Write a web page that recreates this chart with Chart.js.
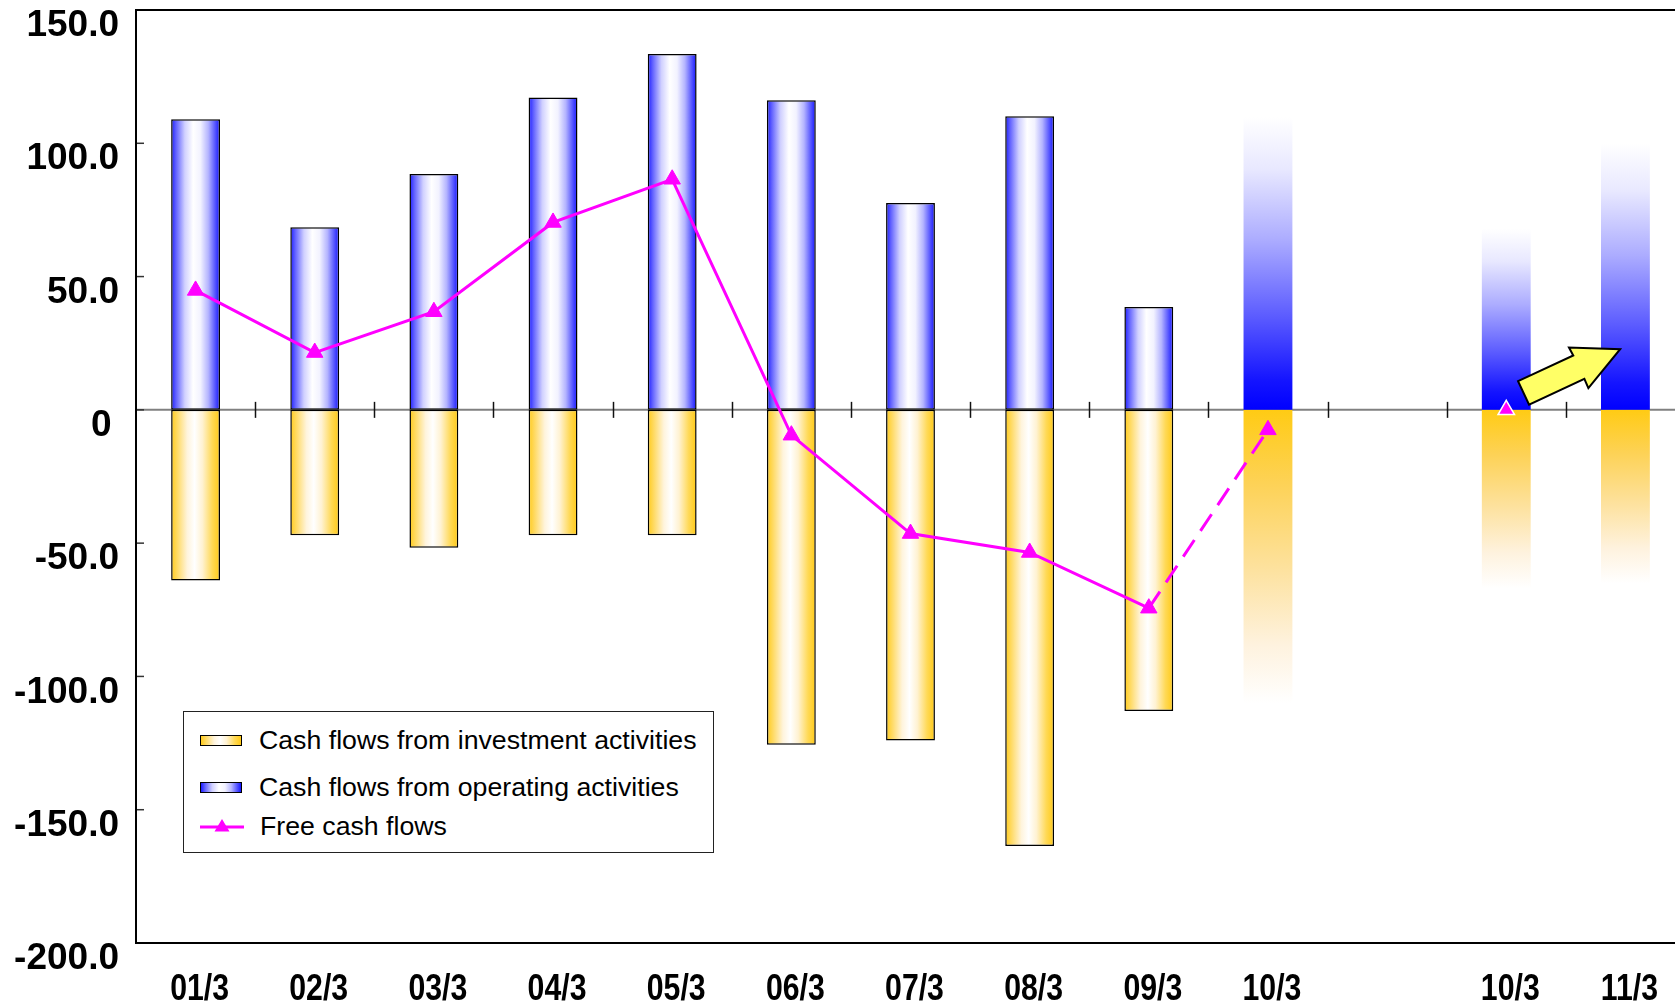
<!DOCTYPE html>
<html>
<head>
<meta charset="utf-8">
<title>Cash flows</title>
<script src="https://cdn.jsdelivr.net/npm/chart.js@4.4.1/dist/chart.umd.min.js"></script>
<style>
  html, body { margin: 0; padding: 0; background: #fff; overflow: hidden; }
  #wrap { position: relative; width: 1675px; height: 1003px; overflow: hidden; }
  #cv { position: absolute; left: 0; top: 0; }
  #legend {
    position: absolute; left: 183px; top: 711px; width: 529px; height: 140px;
    border: 1px solid #222; background: #fff;
    font-family: "Liberation Sans", Arial, sans-serif; font-size: 26.7px; color: #000;
  }
  #legend .row { position: absolute; left: 16px; height: 30px; display: flex; align-items: center; white-space: nowrap; }
  #legend .sw { width: 40px; height: 9px; border: 1.5px solid #000; margin-right: 17px; }
  #legend svg { margin-right: 16px; }
</style>
</head>
<body>
<div id="wrap">
  <canvas id="cv" width="1700" height="1003"></canvas>
  <div id="legend"></div>
</div>
<script>
// Fiscal years (March year-end); the blank slot separates the two forecast groups
const categories = ['01/3', '02/3', '03/3', '04/3', '05/3', '06/3', '07/3', '08/3', '09/3', '10/3', '', '10/3', '11/3'];

// Results (billions of yen)
const operatingCF  = [109.0, 68.5, 88.5, 117.2, 133.5, 116.1, 77.6, 110.1, 38.6, null, null, null, null];
const investmentCF = [-64.0, -47.0, -51.7, -47.0, -47.0, -125.6, -124.0, -163.6, -113.0, null, null, null, null];
const freeCF       = [44.8, 21.5, 36.8, 70.3, 86.5, -9.5, -46.4, -53.5, -74.4, -7.5, null, 0, null];

// Plans / outlooks (drawn as fading bars)
const operatingPlan  = [null, null, null, null, null, null, null, null, null, 110, null, 68, 100];
const investmentPlan = [null, null, null, null, null, null, null, null, null, -110, null, -67, -65];

// Axis range
const yMin = -200, yMax = 150, yStep = 50;

const BAR_PCT = 0.41;
const LABEL_FONT = '"Liberation Sans", Arial, sans-serif';

const blueBand = [[0, '#1c1cff'], [0.1, '#6262ff'], [0.28, '#d0d0ff'], [0.45, '#ffffff'], [0.6, '#f2f2ff'], [0.76, '#b4b4ff'], [0.9, '#5656ff'], [1, '#1414ff']];
const goldBand = [[0, '#ffcb1c'], [0.14, '#ffdc6c'], [0.33, '#fff4dc'], [0.48, '#ffffff'], [0.64, '#fff2d2'], [0.84, '#ffd956'], [1, '#ffc916']];
const blueFade = [[0, '#0000ff'], [0.1, '#1414ff'], [0.32, '#5c5cff'], [0.58, '#acacff'], [0.82, '#e8e8ff'], [1, '#ffffff']];
const goldFade = [[0, '#ffcb14'], [0.25, '#fdd256'], [0.55, '#fde2a0'], [0.8, '#fef2de'], [1, '#ffffff']];

function toCss(stops) {
  return 'linear-gradient(to right, ' + stops.map(([o, c]) => c + ' ' + (o * 100) + '%').join(', ') + ')';
}

// Horizontal "cylinder" shading across each bar
function bandFill(stops) {
  return (c) => {
    if (c.type !== 'data' || !c.chart.chartArea) return stops[0][1];
    const x = c.chart.scales.x;
    const cx = x.getPixelForValue(c.dataIndex);
    const half = (x.getPixelForValue(1) - x.getPixelForValue(0)) * BAR_PCT / 2;
    const g = c.chart.ctx.createLinearGradient(cx - half, 0, cx + half, 0);
    stops.forEach(([o, col]) => g.addColorStop(o, col));
    return g;
  };
}

// Vertical fade from the zero line out to the bar's value
function fadeFill(stops) {
  return (c) => {
    if (c.type !== 'data' || c.raw == null || !c.chart.chartArea) return stops[0][1];
    const y = c.chart.scales.y;
    const g = c.chart.ctx.createLinearGradient(0, y.getPixelForValue(0), 0, y.getPixelForValue(c.raw));
    stops.forEach(([o, col]) => g.addColorStop(o, col));
    return g;
  };
}

// Plot frame, zero line and the small tick marks
const framePlugin = {
  id: 'frame',
  beforeDatasetsDraw(chart) {
    const { ctx, chartArea: a, scales: { x, y } } = chart;
    const y0 = y.getPixelForValue(0);
    ctx.save();
    ctx.strokeStyle = '#808080';
    ctx.lineWidth = 2;
    ctx.beginPath(); ctx.moveTo(a.left, y0); ctx.lineTo(a.right, y0); ctx.stroke();

    const slot = x.getPixelForValue(1) - x.getPixelForValue(0);
    ctx.strokeStyle = '#111';
    ctx.lineWidth = 1.5;
    for (let i = 0; i < categories.length - 1; i++) {
      const px = Math.round(x.getPixelForValue(i) + slot / 2) + 0.5;
      ctx.beginPath(); ctx.moveTo(px, y0 - 8); ctx.lineTo(px, y0 + 8); ctx.stroke();
    }
    ctx.strokeStyle = '#333';
    for (let v = yMin + yStep; v < yMax; v += yStep) {
      const py = y.getPixelForValue(v);
      ctx.beginPath(); ctx.moveTo(a.left, py); ctx.lineTo(a.left + 8, py); ctx.stroke();
    }
    ctx.strokeStyle = '#000';
    ctx.lineWidth = 2;
    ctx.strokeRect(a.left, a.top, a.right - a.left, a.bottom - a.top);
    ctx.restore();
  }
};

// Category labels in a narrow bold face (horizontally condensed)
const categoryLabelPlugin = {
  id: 'categoryLabels',
  afterDraw(chart) {
    const { ctx, chartArea: a, scales: { x } } = chart;
    ctx.save();
    ctx.fillStyle = '#000';
    ctx.font = 'bold 36px ' + LABEL_FONT;
    ctx.textAlign = 'center';
    ctx.textBaseline = 'alphabetic';
    categories.forEach((label, i) => {
      if (!label) return;
      ctx.save();
      ctx.translate(x.getPixelForValue(i) + 4, a.bottom + 57);
      ctx.scale(0.84, 1);
      ctx.fillText(label, 0, 0);
      ctx.restore();
    });
    ctx.restore();
  }
};

// Upward block arrow pointing from the current-year outlook to the next year
const arrowPlugin = {
  id: 'arrow',
  afterDatasetsDraw(chart) {
    const { ctx, scales: { x, y } } = chart;
    const ox = x.getPixelForValue(11), oy = y.getPixelForValue(0);
    const shape = [[11.8, -28.7], [67, -54.4], [62.7, -62.4], [113.9, -60.7], [82.1, -21.7], [78.1, -30.9], [22.8, -5.3]];
    ctx.save();
    ctx.beginPath();
    shape.forEach(([dx, dy], i) => (i ? ctx.lineTo(ox + dx, oy + dy) : ctx.moveTo(ox + dx, oy + dy)));
    ctx.closePath();
    ctx.fillStyle = '#ffff66';
    ctx.fill();
    ctx.lineWidth = 2;
    ctx.lineJoin = 'miter';
    ctx.strokeStyle = '#000';
    ctx.stroke();
    ctx.restore();
  }
};

const datasets = [
  {
    type: 'line', label: 'Free cash flows', data: freeCF, order: 0,
    borderColor: '#ff00ff', backgroundColor: '#ff00ff', borderWidth: 3, tension: 0, spanGaps: false,
    pointStyle: 'triangle', pointRadius: 9.5, pointHoverRadius: 9.5,
    pointBackgroundColor: '#ff00ff',
    pointBorderColor: freeCF.map((v, i) => (i === 11 ? '#ffffff' : '#ff00ff')),
    pointBorderWidth: freeCF.map((v, i) => (i === 11 ? 1.5 : 1)),
    segment: { borderDash: (s) => (s.p0DataIndex === 8 ? [20, 11] : undefined) }
  },
  {
    label: 'Cash flows from investment activities', data: investmentCF, order: 1,
    backgroundColor: bandFill(goldBand), borderColor: '#000', borderWidth: 1.5, borderSkipped: false,
    legendFill: goldBand
  },
  {
    label: 'Cash flows from operating activities', data: operatingCF, order: 1,
    backgroundColor: bandFill(blueBand), borderColor: '#000', borderWidth: 1.5, borderSkipped: false,
    legendFill: blueBand
  },
  {
    label: 'Operating outlook', data: operatingPlan, order: 2,
    backgroundColor: fadeFill(blueFade), borderWidth: 0
  },
  {
    label: 'Investment outlook', data: investmentPlan, order: 2,
    backgroundColor: fadeFill(goldFade), borderWidth: 0
  }
];

const noEdgePadding = (s) => { s.paddingTop = 0; s.paddingBottom = 0; s.paddingLeft = 0; s.paddingRight = 0; };

new Chart(document.getElementById('cv'), {
  type: 'bar',
  data: { labels: categories, datasets },
  options: {
    responsive: false,
    animation: false,
    events: [],
    datasets: { bar: { grouped: false, barPercentage: BAR_PCT, categoryPercentage: 1 } },
    layout: { autoPadding: false, padding: { left: 0, right: 15, top: 10, bottom: 0 } },
    plugins: { legend: { display: false }, tooltip: { enabled: false } },
    scales: {
      x: {
        grid: { display: false, drawTicks: false },
        border: { display: false },
        ticks: { display: false, autoSkip: false, maxRotation: 0, minRotation: 0 },
        afterFit: (s) => { s.height = 60; noEdgePadding(s); }
      },
      y: {
        min: yMin, max: yMax,
        grid: { display: false, drawTicks: false },
        border: { display: false },
        ticks: {
          stepSize: yStep, padding: 17, labelOffset: 16, color: '#000',
          font: { family: LABEL_FONT, size: 37, weight: 'bold', lineHeight: 1 },
          callback: (v) => (v === 0 ? '0\u2009' : v.toFixed(1))
        },
        afterFit: (s) => { s.width = 136; noEdgePadding(s); }
      }
    }
  },
  plugins: [framePlugin, arrowPlugin, categoryLabelPlugin]
});

// Legend box inside the plot area
(function buildLegend() {
  const box = document.getElementById('legend');
  const rowTops = [13, 60, 99];
  const entries = [datasets[1], datasets[2], datasets[0]];
  entries.forEach((ds, i) => {
    const row = document.createElement('div');
    row.className = 'row';
    row.style.top = rowTops[i] + 'px';
    if (ds.type === 'line') {
      row.innerHTML =
        '<svg width="44" height="20" viewBox="0 0 44 20">' +
        '<line x1="0" y1="11" x2="44" y2="11" stroke="#ff00ff" stroke-width="3"/>' +
        '<polygon points="22,3 29.5,15.5 14.5,15.5" fill="#ff00ff"/></svg>';
    } else {
      const sw = document.createElement('div');
      sw.className = 'sw';
      sw.style.background = toCss(ds.legendFill);
      row.appendChild(sw);
    }
    const t = document.createElement('span');
    t.textContent = ds.label;
    row.appendChild(t);
    box.appendChild(row);
  });
})();
</script>
</body>
</html>
